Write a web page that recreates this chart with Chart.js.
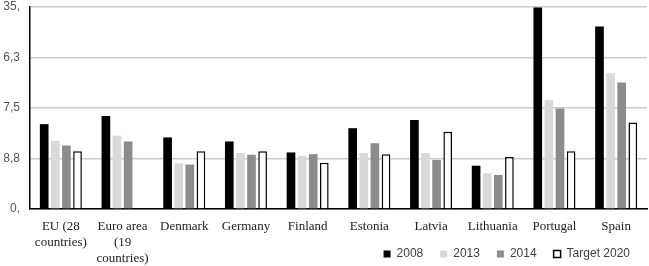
<!DOCTYPE html>
<html>
<head>
<meta charset="utf-8">
<style>
  html, body { margin: 0; padding: 0; background: #fff; }
  #wrap { width: 649px; height: 266px; }
</style>
<script src="https://cdn.jsdelivr.net/npm/chart.js@4"></script>
</head>
<body>
<div id="wrap"><canvas id="chart" width="649" height="266"></canvas></div>
<script>
const countries = [['EU (28', 'countries)'], ['Euro area', '(19', 'countries)'], 'Denmark', 'Germany', 'Finland', 'Estonia', 'Latvia', 'Lithuania', 'Portugal', 'Spain'];
const y2008 = [14.7, 16.1, 12.4, 11.7, 9.8, 14.0, 15.4, 7.5, 34.9, 31.6];
const y2013 = [11.8, 12.7, 7.9, 9.7, 9.2, 9.7, 9.7, 6.2, 18.9, 23.5];
const y2014 = [11.0, 11.7, 7.7, 9.4, 9.5, 11.4, 8.5, 5.9, 17.4, 21.9];
const target2020 = [10.0, null, 10.0, 10.0, 8.0, 9.5, 13.4, 9.0, 10.0, 15.0];
const yTickValues = [0, 8.75, 17.5, 26.25, 35];
const yTickLabels = ['0,', '8,8', '7,5', '6,3', '35,'];

const data = {
  labels: countries,
  datasets: [
    { label: '2008', data: y2008, backgroundColor: '#000000', borderWidth: 0 },
    { label: '2013', data: y2013, backgroundColor: '#d9d9d9', borderWidth: 0 },
    { label: '2014', data: y2014, backgroundColor: '#8c8c8c', borderWidth: 0 },
    { label: 'Target 2020', data: target2020, backgroundColor: '#ffffff', borderColor: '#000000', borderWidth: 1.5 }
  ]
};

const chart = new Chart(document.querySelector('#chart'), {
  type: 'bar',
  data: data,
  options: {
    responsive: false,
    animation: false,
    datasets: {
      bar: { categoryPercentage: 0.72, barPercentage: 0.78 }
    },
    layout: { padding: { top: 7, right: 2, bottom: -4, left: 0 } },
    plugins: {
      tooltip: { enabled: false },
      legend: {
        position: 'bottom',
        align: 'end',
        labels: {
          boxWidth: 7,
          boxHeight: 7,
          padding: 17,
          color: '#404040',
          font: { family: 'Liberation Sans', size: 12 }
        }
      }
    },
    scales: {
      x: {
        grid: { display: false, drawTicks: false },
        border: { color: '#000000', width: 1.5 },
        ticks: {
          color: '#222222',
          padding: 9,
          maxRotation: 0,
          autoSkip: false,
          font: { family: 'Liberation Serif', size: 13, lineHeight: 1.25 }
        },
        // labels run down into the legend row, so no clipping to the axis box
        afterFit: scale => {
          scale.height = 22;
          scale._computeLabelArea = () => undefined;
        }
      },
      y: {
        min: 0,
        max: 35,
        grid: { color: '#cccccc', lineWidth: 1.5, drawTicks: false },
        border: { color: '#000000', width: 1.5 },
        afterBuildTicks: scale => { scale.ticks = yTickValues.map(v => ({ value: v })); },
        ticks: {
          color: '#555555',
          padding: 10,
          font: { family: 'Liberation Sans', size: 12 },
          callback: (value, i) => yTickLabels[i]
        },
        afterFit: scale => {
          scale.width = 30;
          scale.paddingTop = 0;
          scale.paddingBottom = 0;
        }
      }
    }
  }
});
</script>
</body>
</html>
